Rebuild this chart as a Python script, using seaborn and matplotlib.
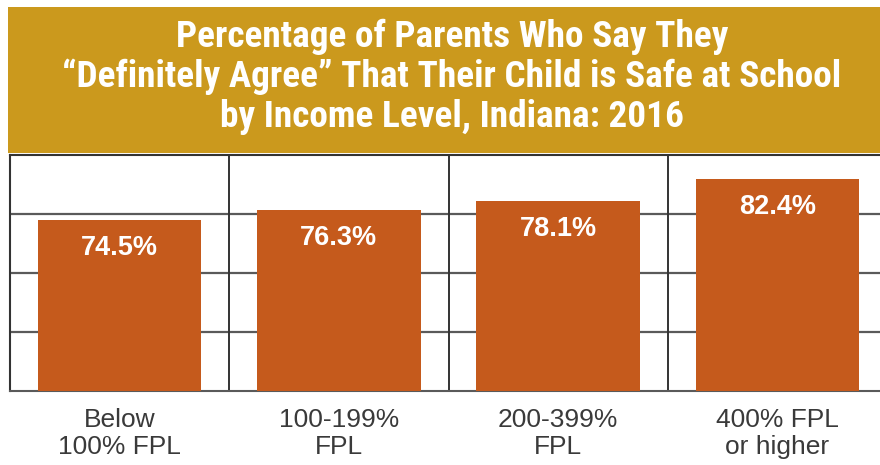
import matplotlib
matplotlib.use("Agg")
import matplotlib.pyplot as plt
from matplotlib.patches import Rectangle
from matplotlib import font_manager as fm
import numpy as np
import pandas as pd
import seaborn as sns

# Income groups and share of parents who "definitely agree"
categories = ["Below\n100% FPL", "100-199%\nFPL", "200-399%\nFPL", "400% FPL\nor higher"]
values = [74.5, 76.3, 78.1, 82.4]
value_labels = ["74.5%", "76.3%", "78.1%", "82.4%"]

title_lines = [
    "Percentage of Parents Who Say They",
    "\u201cDefinitely Agree\u201d That Their Child is Safe at School",
    "by Income Level, Indiana: 2016",
]

BAR = "#C55A1C"
GOLD = "#CB991D"
GRID = "#5a5a5a"
FRAME = "#333333"

sns.set_theme(style="white")
plt.rcParams["font.family"] = ["Liberation Sans", "DejaVu Sans"]


def narrow_bold_font():
    """Pick the narrowest bold sans face that is installed."""
    entries = fm.fontManager.ttflist
    for fam in ["Liberation Sans Narrow", "Roboto Condensed", "Open Sans Condensed",
                "Noto Sans Condensed", "DejaVu Sans Condensed"]:
        if any(f.name == fam for f in entries):
            return fm.FontProperties(family=fam, weight="bold")
    for f in entries:
        if ("ondensed" in str(f.stretch) or "Condensed" in f.fname) and \
                str(f.weight) in ("bold", "700") and "Sans" in f.name:
            return fm.FontProperties(fname=f.fname)
    return fm.FontProperties(family="DejaVu Sans", weight="bold", stretch="condensed")


W, H = 880, 465
fig = plt.figure(figsize=(W / 100, H / 100), dpi=100)
fig.patch.set_facecolor("white")

# plot panel (right edge runs just past the canvas)
left, right, top, bottom = 10, 887, 155, 391
ax = fig.add_axes([left / W, 1 - bottom / H, (right - left) / W, (bottom - top) / H])

df = pd.DataFrame({"group": categories, "pct": values})
sns.barplot(data=df, x="group", y="pct", color=BAR, saturation=1, width=0.745,
            ax=ax, zorder=3)
for p in ax.patches:
    p.set_edgecolor("none")

ymin, ymax = 41.5, 87.0
ax.set_ylim(ymin, ymax)
ax.set_xlim(-0.5, len(categories) - 0.5)

# frame grid: horizontal rules and column dividers
for y in np.linspace(ymin, ymax, 5)[1:-1]:
    ax.axhline(y, color=GRID, lw=1.6, zorder=1)
for x in np.arange(0.5, len(categories) - 0.5, 1.0):
    ax.axvline(x, color=FRAME, lw=1.4, zorder=1)

for side in ["left", "right", "top", "bottom"]:
    ax.spines[side].set_visible(True)
    ax.spines[side].set_color(FRAME)
    ax.spines[side].set_linewidth(1.5)
ax.spines["bottom"].set_color(GRID)

ax.set_xlabel("")
ax.set_ylabel("")
ax.set_yticks([])
ax.tick_params(axis="x", length=0, pad=12, labelsize=19, labelcolor="#3a3a3a")
for t in ax.get_xticklabels():
    t.set_linespacing(1.2)

# value labels inside the bars
for i, (v, lab) in enumerate(zip(values, value_labels)):
    ax.annotate(lab, xy=(i, v), xytext=(0, -28), textcoords="offset pixels",
                ha="center", va="center", color="white", fontsize=19.5,
                fontweight="bold", zorder=4)

# title banner
fig.patches.append(Rectangle((8 / W, 1 - 153 / H), 1.0, (153 - 7) / H,
                             transform=fig.transFigure, facecolor=GOLD,
                             edgecolor="none", zorder=0))
title_font = narrow_bold_font()
baselines = [47, 87, 127]
title_texts = [fig.text(452 / W, 1 - b / H, line, ha="center", va="baseline",
                        color="white", fontproperties=title_font.copy())
               for line, b in zip(title_lines, baselines)]

# size the banner text so the longest line spans about 780 px
renderer = fig.canvas.get_renderer()
for t in title_texts:
    t.set_fontsize(24)
widest = max(t.get_window_extent(renderer).width for t in title_texts)
size = min(24 * 780 / widest, 30)
for t in title_texts:
    t.set_fontsize(size)

fig.savefig("out.png", dpi=100, facecolor="white")
